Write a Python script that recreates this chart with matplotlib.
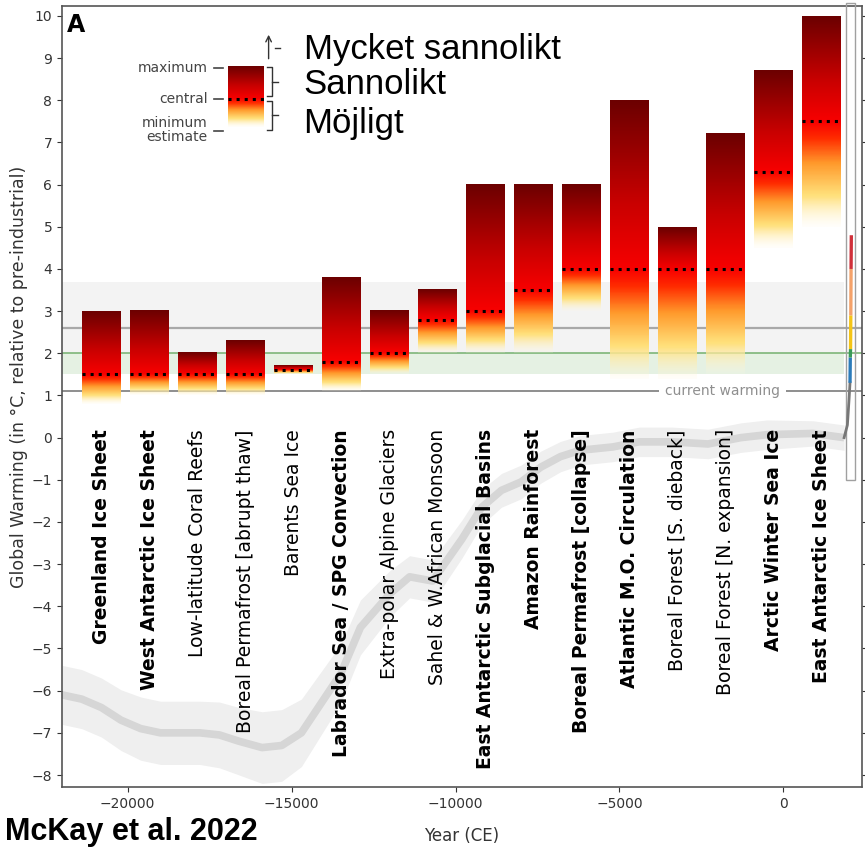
import numpy as np
import matplotlib.pyplot as plt
from matplotlib.colors import LinearSegmentedColormap
from matplotlib.patches import Rectangle

# Tipping elements with minimum / central / maximum threshold estimates (°C)
names = ['Greenland Ice Sheet', 'West Antarctic Ice Sheet', 'Low-latitude Coral Reefs',
         'Boreal Permafrost [abrupt thaw]', 'Barents Sea Ice', 'Labrador Sea / SPG Convection',
         'Extra-polar Alpine Glaciers', 'Sahel & W.African Monsoon',
         'East Antarctic Subglacial Basins', 'Amazon Rainforest', 'Boreal Permafrost [collapse]',
         'Atlantic M.O. Circulation', 'Boreal Forest [S. dieback]', 'Boreal Forest [N. expansion]',
         'Arctic Winter Sea Ice', 'East Antarctic Ice Sheet']
is_global = [True, True, False, False, False, True, False, False,
             True, True, True, True, False, False, True, True]
t_min = [0.8, 1.0, 1.0, 1.0, 1.5, 1.1, 1.5, 2.0, 2.0, 2.0, 3.0, 1.4, 1.4, 1.5, 4.5, 5.0]
t_central = [1.5, 1.5, 1.5, 1.5, 1.6, 1.8, 2.0, 2.8, 3.0, 3.5, 4.0, 4.0, 4.0, 4.0, 6.3, 7.5]
t_max = [3.0, 3.0, 2.0, 2.3, 1.7, 3.8, 3.0, 3.5, 6.0, 6.0, 6.0, 8.0, 5.0, 7.2, 8.7, 10.0]

# Temperature reconstruction since the last glacial maximum
years = [-22000, -21400, -20800, -20200, -19600, -19000, -18400, -17800, -17200, -16600,
         -15900, -15300, -14700, -14100, -13500, -12900, -12000, -11400, -10700, -9800,
         -9200, -8600, -8000, -7400, -6800, -6200, -5200, -4400, -3400, -2300, -1300,
         -500, 900, 1850]
temp = [-6.1, -6.2, -6.4, -6.7, -6.9, -7.0, -7.0, -7.0, -7.05, -7.2,
        -7.35, -7.3, -7.0, -6.3, -5.6, -4.5, -3.7, -3.3, -3.4, -2.4,
        -1.65, -1.25, -1.05, -0.7, -0.45, -0.3, -0.22, -0.1, -0.1, -0.15, 0.0,
        0.07, 0.1, 0.0]
spread = [0.7, 0.7, 0.7, 0.72, 0.75, 0.75, 0.75, 0.75, 0.78, 0.8,
          0.85, 0.85, 0.8, 0.75, 0.7, 0.65, 0.55, 0.5, 0.5, 0.45,
          0.42, 0.4, 0.4, 0.38, 0.36, 0.35, 0.35, 0.35, 0.35, 0.35, 0.35,
          0.35, 0.3, 0.3]

# recent and projected warming (right-hand strip)
recent_years = [1850, 1950, 2000, 2030]
recent_temps = [0.0, 0.3, 0.9, 1.3]
future_levels = [1.3, 1.9, 2.1, 2.9, 4.0, 4.8]
future_colors = ['#2b7bba', '#3a9a5a', '#f5c518', '#f4a26a', '#d0303a']

paris_range = (1.5, 2.0)
projected_range = (1.5, 3.7)
projected_warming = 2.6
current_warming = 1.1

cmap = LinearSegmentedColormap.from_list('tip', [
    (0.0, '#fff9e0'), (0.15, '#ffe07a'), (0.3, '#ff9a2c'), (0.42, '#ff2c00'),
    (0.5, '#f80000'), (0.7, '#c80000'), (1.0, '#6c0000')])


def gradient_bar(ax, x0, x1, lo, c, hi):
    yy = np.linspace(lo, hi, 300)
    t = np.where(yy < c, 0.5 * (yy - lo) / max(c - lo, 1e-6),
                 0.5 + 0.5 * (yy - c) / max(hi - c, 1e-6))
    rgba = cmap(t)
    rgba[:, 3] = np.clip(0.15 + 6 * t, 0, 1)
    ax.imshow(rgba[:, None, :], extent=[x0, x1, lo, hi], origin='lower',
              aspect='auto', interpolation='bilinear', zorder=3)
    ax.plot([x0, x1], [c, c], color='black', ls=':', lw=2.2, zorder=4)


fig = plt.figure(figsize=(8.65, 8.49), dpi=100)
ax = fig.add_axes([0.0717, 0.073, 0.925, 0.92])

# background ranges
ax.fill_between([-22500, 1850], projected_range[0], projected_range[1],
                color='#f3f3f3', lw=0, zorder=0)
ax.fill_between([-22500, 1850], paris_range[0], paris_range[1],
                color='#e5f1e3', lw=0, zorder=0.5)
ax.axhline(projected_warming, color='#a8a8a8', lw=1.6, zorder=2)
ax.axhline(paris_range[1], color='#74b06e', lw=1.1, zorder=2)
ax.axhline(current_warming, color='#707070', lw=1.1, zorder=2)
ax.text(-1860, current_warming, 'current warming', ha='center', va='center',
        fontsize=10, color='#8f8f8f', zorder=2.5,
        bbox=dict(facecolor='white', edgecolor='none', pad=4))

# temperature reconstruction
temp = np.array(temp)
spread = np.array(spread)
ax.fill_between(years, temp - spread, temp + spread, color='#efefef', lw=0, zorder=1)
ax.plot(years, temp, color='#d6d6d6', lw=5.5, zorder=1.5, solid_capstyle='butt')

# tipping element bars
centers = np.linspace(-20800, 1160, len(names))
width = 1160
for i, name in enumerate(names):
    gradient_bar(ax, centers[i] - width / 2, centers[i] + width / 2,
                 t_min[i], t_central[i], t_max[i])
    ax.text(centers[i], 0.2, name, rotation=90, ha='center', va='top',
            fontsize=13.5, fontweight='bold' if is_global[i] else 'normal',
            color='black', zorder=5)

# right-hand strip with recent / projected warming
ax.add_patch(Rectangle((1920, -1.0), 275, 11.3, fill=False, ec='#a0a0a0',
                       lw=1, zorder=5, clip_on=False))
ax.plot(recent_years, recent_temps, color='#777777', lw=2, zorder=6)
seg_x = np.linspace(2030, 2070, len(future_levels))
for k in range(len(future_colors)):
    ax.plot(seg_x[k:k + 2], future_levels[k:k + 2], color=future_colors[k],
            lw=2.4, zorder=6, solid_capstyle='butt')

# legend explaining the bars
ax.text(-21850, 9.78, 'A', fontsize=17, fontweight='bold', va='center', ha='left')
gradient_bar(ax, -16951, -15854, 7.37, 8.04, 8.8)
for lab, yv in [('maximum', 8.77), ('central', 8.04), ('minimum\nestimate', 7.3)]:
    ax.text(-17560, yv, lab, ha='right', va='center', fontsize=10, color='#444444',
            linespacing=1.0)
    ax.plot([-17380, -17100], [yv if yv != 7.3 else 7.28] * 2, color='#444444', lw=1.2)
ax.annotate('', xy=(-15700, 9.62), xytext=(-15700, 8.92),
            arrowprops=dict(arrowstyle='->', color='#333333', lw=1))
ax.plot([-15520, -15340], [9.25, 9.25], color='#333333', lw=1)
for top, bot in [(8.80, 8.09), (7.99, 7.30)]:
    ax.plot([-15760, -15610, -15610, -15760], [top, top, bot, bot], color='#333333', lw=1)
    ax.plot([-15610, -15400], [(top + bot) / 2] * 2, color='#333333', lw=1)
for lab, yb in [('Mycket sannolikt', 8.99), ('Sannolikt', 8.16), ('Möjligt', 7.23)]:
    ax.text(-14634, yb, lab, fontsize=25, family='Liberation Sans', va='baseline',
            ha='left', color='black')

ax.set_xlim(-22000, 2400)
ax.set_ylim(-8.285, 10.237)
ax.set_yticks(range(-8, 11))
ax.set_xticks([-20000, -15000, -10000, -5000, 0])
ax.tick_params(labelsize=10, colors='#333333', right=True)
for s in ax.spines.values():
    s.set_color('#555555')
    s.set_linewidth(1.2)
ax.set_ylabel('Global Warming (in °C, relative to pre-industrial)', fontsize=12.5,
              color='#333333')
ax.yaxis.set_label_coords(-0.043, 0.525)
ax.set_xlabel('Year (CE)', fontsize=12, color='#333333', labelpad=12)

fig.text(0.006, 0.002, 'McKay et al. 2022', fontsize=22, fontweight='bold',
         family='Liberation Sans', va='bottom', ha='left')

fig.savefig('out.png', dpi=100)
